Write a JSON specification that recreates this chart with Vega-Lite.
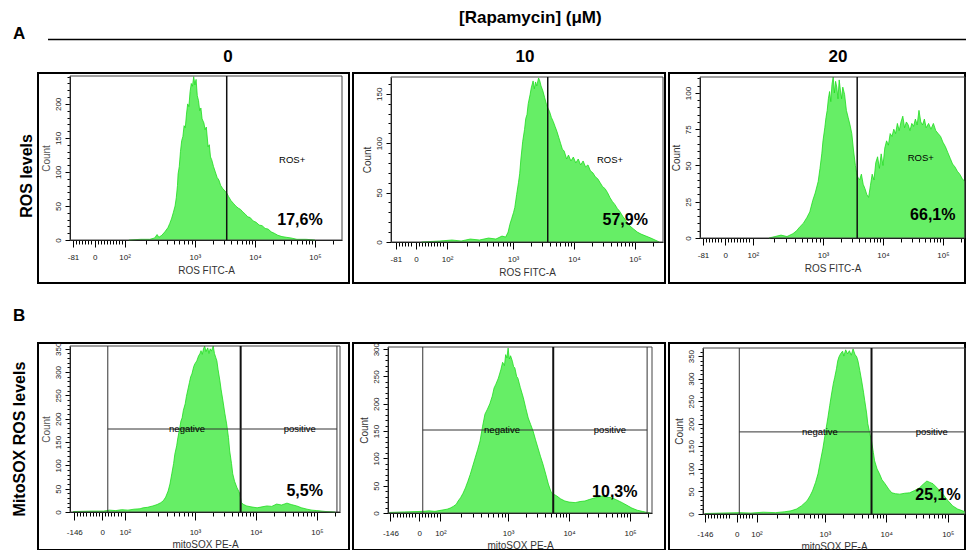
{
"$schema": "https://vega.github.io/schema/vega-lite/v6.json",
"usermeta": {"embedOptions": {"actions": false}},
"padding": 0,
"background": "white",
"spacing": 0,
"config": {
  "font": "Liberation Sans",
  "view": {"stroke": "#000", "strokeWidth": 2},
  "text": {"font": "Liberation Sans"},
  "axis": {"labelFont": "Liberation Sans", "titleFont": "Liberation Sans", "labelFontSize": 8, "titleFontSize": 10, "titleFontWeight": "normal", "domainColor": "#000", "tickColor": "#000", "labelColor": "#222", "titleColor": "#333", "grid": false, "labelOverlap": false, "labelFlush": false, "labelBound": false, "zindex": 1}
},
"datasets": {
  "A0": [{"pos":1.9,"count":0},{"pos":2.1,"count":1},{"pos":2.25,"count":1},{"pos":2.33,"count":3},{"pos":2.37,"count":8},{"pos":2.4,"count":4},{"pos":2.45,"count":7},{"pos":2.5,"count":12},{"pos":2.55,"count":18},{"pos":2.58,"count":24},{"pos":2.61,"count":31},{"pos":2.64,"count":40},{"pos":2.67,"count":50},{"pos":2.69,"count":62},{"pos":2.71,"count":80},{"pos":2.72,"count":97},{"pos":2.74,"count":108},{"pos":2.76,"count":130},{"pos":2.78,"count":146},{"pos":2.8,"count":152},{"pos":2.82,"count":168},{"pos":2.84,"count":165},{"pos":2.86,"count":185},{"pos":2.88,"count":200},{"pos":2.9,"count":196},{"pos":2.92,"count":218},{"pos":2.94,"count":230},{"pos":2.96,"count":226},{"pos":2.98,"count":240},{"pos":3.0,"count":228},{"pos":3.02,"count":236},{"pos":3.04,"count":212},{"pos":3.06,"count":205},{"pos":3.08,"count":190},{"pos":3.1,"count":194},{"pos":3.12,"count":178},{"pos":3.15,"count":172},{"pos":3.17,"count":162},{"pos":3.19,"count":166},{"pos":3.22,"count":137},{"pos":3.24,"count":140},{"pos":3.26,"count":122},{"pos":3.28,"count":118},{"pos":3.31,"count":108},{"pos":3.34,"count":100},{"pos":3.37,"count":92},{"pos":3.4,"count":88},{"pos":3.43,"count":80},{"pos":3.46,"count":76},{"pos":3.5,"count":72},{"pos":3.53,"count":69},{"pos":3.56,"count":64},{"pos":3.6,"count":58},{"pos":3.64,"count":54},{"pos":3.68,"count":50},{"pos":3.72,"count":47},{"pos":3.76,"count":45},{"pos":3.8,"count":41},{"pos":3.84,"count":38},{"pos":3.88,"count":34},{"pos":3.92,"count":33},{"pos":3.97,"count":28},{"pos":4.02,"count":26},{"pos":4.07,"count":22},{"pos":4.12,"count":21},{"pos":4.17,"count":17},{"pos":4.22,"count":16},{"pos":4.27,"count":12},{"pos":4.32,"count":10},{"pos":4.38,"count":7},{"pos":4.45,"count":5},{"pos":4.52,"count":4},{"pos":4.6,"count":3},{"pos":4.7,"count":1},{"pos":4.85,"count":1},{"pos":5.0,"count":0}],
  "A10": [{"pos":1.5,"count":0},{"pos":1.8,"count":1},{"pos":2.0,"count":2},{"pos":2.15,"count":1},{"pos":2.3,"count":3},{"pos":2.45,"count":2},{"pos":2.6,"count":4},{"pos":2.72,"count":3},{"pos":2.82,"count":6},{"pos":2.88,"count":5},{"pos":2.92,"count":10},{"pos":2.95,"count":18},{"pos":2.98,"count":24},{"pos":3.01,"count":30},{"pos":3.03,"count":35},{"pos":3.06,"count":48},{"pos":3.09,"count":60},{"pos":3.11,"count":69},{"pos":3.13,"count":84},{"pos":3.16,"count":102},{"pos":3.19,"count":114},{"pos":3.21,"count":125},{"pos":3.23,"count":129},{"pos":3.25,"count":140},{"pos":3.28,"count":149},{"pos":3.3,"count":156},{"pos":3.33,"count":163},{"pos":3.35,"count":155},{"pos":3.37,"count":162},{"pos":3.39,"count":158},{"pos":3.42,"count":166},{"pos":3.44,"count":163},{"pos":3.46,"count":158},{"pos":3.49,"count":153},{"pos":3.52,"count":146},{"pos":3.55,"count":139},{"pos":3.57,"count":136},{"pos":3.6,"count":132},{"pos":3.63,"count":126},{"pos":3.66,"count":122},{"pos":3.69,"count":117},{"pos":3.72,"count":112},{"pos":3.75,"count":106},{"pos":3.78,"count":100},{"pos":3.81,"count":94},{"pos":3.84,"count":92},{"pos":3.88,"count":84},{"pos":3.91,"count":88},{"pos":3.95,"count":82},{"pos":3.99,"count":86},{"pos":4.03,"count":80},{"pos":4.07,"count":84},{"pos":4.11,"count":78},{"pos":4.15,"count":82},{"pos":4.19,"count":76},{"pos":4.23,"count":78},{"pos":4.27,"count":72},{"pos":4.31,"count":70},{"pos":4.35,"count":66},{"pos":4.39,"count":64},{"pos":4.43,"count":60},{"pos":4.47,"count":56},{"pos":4.51,"count":54},{"pos":4.55,"count":50},{"pos":4.59,"count":45},{"pos":4.63,"count":41},{"pos":4.67,"count":38},{"pos":4.71,"count":34},{"pos":4.75,"count":31},{"pos":4.8,"count":26},{"pos":4.86,"count":21},{"pos":4.92,"count":16},{"pos":4.98,"count":13},{"pos":5.04,"count":10},{"pos":5.1,"count":8},{"pos":5.18,"count":6},{"pos":5.26,"count":4},{"pos":5.33,"count":2},{"pos":5.4,"count":0}],
  "A20": [{"pos":2.1,"count":0},{"pos":2.2,"count":1},{"pos":2.3,"count":2},{"pos":2.4,"count":1},{"pos":2.5,"count":3},{"pos":2.56,"count":5},{"pos":2.62,"count":8},{"pos":2.67,"count":10},{"pos":2.73,"count":14},{"pos":2.78,"count":18},{"pos":2.83,"count":26},{"pos":2.87,"count":31},{"pos":2.92,"count":39},{"pos":2.95,"count":48},{"pos":2.98,"count":58},{"pos":3.0,"count":67},{"pos":3.03,"count":76},{"pos":3.05,"count":83},{"pos":3.07,"count":88},{"pos":3.09,"count":96},{"pos":3.11,"count":101},{"pos":3.13,"count":94},{"pos":3.15,"count":106},{"pos":3.17,"count":111},{"pos":3.19,"count":100},{"pos":3.21,"count":108},{"pos":3.23,"count":104},{"pos":3.25,"count":96},{"pos":3.27,"count":109},{"pos":3.29,"count":102},{"pos":3.31,"count":96},{"pos":3.33,"count":104},{"pos":3.36,"count":99},{"pos":3.39,"count":88},{"pos":3.42,"count":83},{"pos":3.45,"count":78},{"pos":3.48,"count":72},{"pos":3.51,"count":60},{"pos":3.54,"count":50},{"pos":3.56,"count":45},{"pos":3.58,"count":42},{"pos":3.61,"count":40},{"pos":3.64,"count":44},{"pos":3.67,"count":37},{"pos":3.7,"count":34},{"pos":3.73,"count":30},{"pos":3.76,"count":28},{"pos":3.79,"count":36},{"pos":3.82,"count":44},{"pos":3.85,"count":40},{"pos":3.88,"count":52},{"pos":3.91,"count":56},{"pos":3.94,"count":48},{"pos":3.97,"count":58},{"pos":4.0,"count":50},{"pos":4.03,"count":62},{"pos":4.06,"count":67},{"pos":4.09,"count":64},{"pos":4.12,"count":72},{"pos":4.15,"count":70},{"pos":4.18,"count":75},{"pos":4.21,"count":72},{"pos":4.24,"count":79},{"pos":4.27,"count":74},{"pos":4.3,"count":80},{"pos":4.33,"count":84},{"pos":4.36,"count":76},{"pos":4.39,"count":80},{"pos":4.42,"count":78},{"pos":4.45,"count":74},{"pos":4.48,"count":79},{"pos":4.51,"count":77},{"pos":4.54,"count":82},{"pos":4.57,"count":78},{"pos":4.6,"count":88},{"pos":4.63,"count":80},{"pos":4.66,"count":78},{"pos":4.69,"count":82},{"pos":4.72,"count":76},{"pos":4.76,"count":79},{"pos":4.8,"count":75},{"pos":4.84,"count":79},{"pos":4.88,"count":74},{"pos":4.92,"count":72},{"pos":4.96,"count":70},{"pos":5.0,"count":66},{"pos":5.04,"count":63},{"pos":5.08,"count":59},{"pos":5.12,"count":55},{"pos":5.16,"count":51},{"pos":5.2,"count":49},{"pos":5.24,"count":46},{"pos":5.28,"count":44},{"pos":5.32,"count":41},{"pos":5.36,"count":39}],
  "B0": [{"pos":1.0,"count":1},{"pos":1.3,"count":2},{"pos":1.5,"count":2},{"pos":1.6,"count":4},{"pos":1.7,"count":3},{"pos":1.8,"count":5},{"pos":1.9,"count":4},{"pos":2.0,"count":6},{"pos":2.1,"count":7},{"pos":2.15,"count":9},{"pos":2.22,"count":10},{"pos":2.31,"count":13},{"pos":2.38,"count":16},{"pos":2.44,"count":20},{"pos":2.48,"count":24},{"pos":2.52,"count":32},{"pos":2.56,"count":45},{"pos":2.59,"count":60},{"pos":2.62,"count":82},{"pos":2.65,"count":104},{"pos":2.67,"count":124},{"pos":2.7,"count":142},{"pos":2.72,"count":159},{"pos":2.75,"count":180},{"pos":2.77,"count":195},{"pos":2.79,"count":202},{"pos":2.81,"count":218},{"pos":2.84,"count":232},{"pos":2.86,"count":248},{"pos":2.89,"count":266},{"pos":2.91,"count":278},{"pos":2.93,"count":290},{"pos":2.95,"count":296},{"pos":2.98,"count":312},{"pos":3.0,"count":318},{"pos":3.03,"count":324},{"pos":3.06,"count":335},{"pos":3.08,"count":339},{"pos":3.1,"count":346},{"pos":3.12,"count":338},{"pos":3.14,"count":350},{"pos":3.16,"count":356},{"pos":3.18,"count":344},{"pos":3.21,"count":352},{"pos":3.23,"count":340},{"pos":3.25,"count":350},{"pos":3.27,"count":345},{"pos":3.3,"count":356},{"pos":3.32,"count":340},{"pos":3.34,"count":332},{"pos":3.36,"count":324},{"pos":3.38,"count":305},{"pos":3.41,"count":281},{"pos":3.43,"count":262},{"pos":3.46,"count":238},{"pos":3.49,"count":212},{"pos":3.52,"count":189},{"pos":3.55,"count":160},{"pos":3.57,"count":131},{"pos":3.6,"count":104},{"pos":3.62,"count":82},{"pos":3.65,"count":66},{"pos":3.69,"count":52},{"pos":3.72,"count":44},{"pos":3.74,"count":38},{"pos":3.76,"count":20},{"pos":3.8,"count":16},{"pos":3.85,"count":13},{"pos":3.92,"count":11},{"pos":4.02,"count":9},{"pos":4.1,"count":11},{"pos":4.18,"count":13},{"pos":4.26,"count":12},{"pos":4.34,"count":17},{"pos":4.42,"count":15},{"pos":4.51,"count":19},{"pos":4.58,"count":16},{"pos":4.67,"count":13},{"pos":4.75,"count":9},{"pos":4.84,"count":6},{"pos":4.92,"count":4},{"pos":5.0,"count":3},{"pos":5.15,"count":1},{"pos":5.3,"count":0}],
  "B10": [{"pos":1.05,"count":1},{"pos":1.3,"count":2},{"pos":1.6,"count":3},{"pos":1.7,"count":4},{"pos":1.8,"count":3},{"pos":1.9,"count":5},{"pos":2.0,"count":7},{"pos":2.05,"count":9},{"pos":2.1,"count":12},{"pos":2.15,"count":16},{"pos":2.18,"count":22},{"pos":2.22,"count":28},{"pos":2.26,"count":36},{"pos":2.3,"count":46},{"pos":2.34,"count":58},{"pos":2.38,"count":71},{"pos":2.42,"count":86},{"pos":2.46,"count":101},{"pos":2.5,"count":116},{"pos":2.54,"count":132},{"pos":2.58,"count":158},{"pos":2.62,"count":181},{"pos":2.66,"count":190},{"pos":2.7,"count":200},{"pos":2.74,"count":214},{"pos":2.77,"count":229},{"pos":2.8,"count":236},{"pos":2.84,"count":247},{"pos":2.88,"count":262},{"pos":2.91,"count":276},{"pos":2.94,"count":270},{"pos":2.96,"count":290},{"pos":2.98,"count":284},{"pos":3.0,"count":302},{"pos":3.02,"count":282},{"pos":3.04,"count":288},{"pos":3.07,"count":278},{"pos":3.09,"count":268},{"pos":3.11,"count":266},{"pos":3.14,"count":250},{"pos":3.16,"count":247},{"pos":3.2,"count":230},{"pos":3.25,"count":211},{"pos":3.29,"count":192},{"pos":3.33,"count":174},{"pos":3.37,"count":162},{"pos":3.41,"count":150},{"pos":3.45,"count":134},{"pos":3.49,"count":119},{"pos":3.53,"count":104},{"pos":3.57,"count":90},{"pos":3.62,"count":70},{"pos":3.66,"count":53},{"pos":3.7,"count":40},{"pos":3.73,"count":35},{"pos":3.77,"count":33},{"pos":3.8,"count":31},{"pos":3.86,"count":26},{"pos":3.93,"count":22},{"pos":4.0,"count":20},{"pos":4.1,"count":19},{"pos":4.18,"count":21},{"pos":4.26,"count":22},{"pos":4.34,"count":25},{"pos":4.43,"count":28},{"pos":4.5,"count":30},{"pos":4.54,"count":31},{"pos":4.6,"count":29},{"pos":4.7,"count":28},{"pos":4.78,"count":24},{"pos":4.87,"count":19},{"pos":4.95,"count":14},{"pos":5.03,"count":9},{"pos":5.12,"count":5},{"pos":5.2,"count":3},{"pos":5.28,"count":1},{"pos":5.33,"count":0}],
  "B20": [{"pos":1.05,"count":1},{"pos":1.3,"count":2},{"pos":1.62,"count":3},{"pos":1.8,"count":2},{"pos":2.0,"count":4},{"pos":2.2,"count":3},{"pos":2.35,"count":5},{"pos":2.45,"count":7},{"pos":2.54,"count":11},{"pos":2.62,"count":18},{"pos":2.71,"count":29},{"pos":2.76,"count":40},{"pos":2.8,"count":51},{"pos":2.85,"count":70},{"pos":2.89,"count":89},{"pos":2.93,"count":118},{"pos":2.97,"count":146},{"pos":3.01,"count":180},{"pos":3.05,"count":213},{"pos":3.08,"count":240},{"pos":3.11,"count":266},{"pos":3.14,"count":290},{"pos":3.16,"count":302},{"pos":3.19,"count":322},{"pos":3.21,"count":339},{"pos":3.23,"count":348},{"pos":3.26,"count":356},{"pos":3.29,"count":361},{"pos":3.31,"count":350},{"pos":3.34,"count":364},{"pos":3.37,"count":355},{"pos":3.4,"count":362},{"pos":3.43,"count":352},{"pos":3.46,"count":366},{"pos":3.49,"count":354},{"pos":3.52,"count":348},{"pos":3.54,"count":339},{"pos":3.57,"count":318},{"pos":3.6,"count":295},{"pos":3.63,"count":270},{"pos":3.65,"count":251},{"pos":3.68,"count":224},{"pos":3.7,"count":200},{"pos":3.73,"count":180},{"pos":3.76,"count":162},{"pos":3.79,"count":136},{"pos":3.81,"count":118},{"pos":3.85,"count":100},{"pos":3.89,"count":89},{"pos":3.93,"count":76},{"pos":3.98,"count":67},{"pos":4.04,"count":55},{"pos":4.09,"count":47},{"pos":4.15,"count":45},{"pos":4.22,"count":44},{"pos":4.3,"count":46},{"pos":4.38,"count":47},{"pos":4.46,"count":52},{"pos":4.54,"count":58},{"pos":4.6,"count":66},{"pos":4.66,"count":73},{"pos":4.71,"count":70},{"pos":4.76,"count":67},{"pos":4.84,"count":56},{"pos":4.92,"count":44},{"pos":5.0,"count":30},{"pos":5.08,"count":18},{"pos":5.16,"count":11},{"pos":5.24,"count":7},{"pos":5.28,"count":5}]
},
"vconcat": [
  {
    "width": 966, "height": 72, "view": {"stroke": null},
    "data": {"values": [{"heading": "[Rapamycin] (μM)"}]},
    "layer": [
      {"mark": {"type": "text", "fontSize": 17, "fontWeight": "bold", "baseline": "middle"},
       "encoding": {"x": {"datum": 0.549, "scale": {"domain": [0, 1]}, "axis": null}, "y": {"datum": 0.75, "scale": {"domain": [0, 1]}, "axis": null}, "text": {"field": "heading"}}},
      {"mark": {"type": "rule", "color": "#000", "strokeWidth": 1.5},
       "encoding": {"x": {"datum": 0.0497, "axis": null}, "x2": {"datum": 1}, "y": {"datum": 0.451, "axis": null}}},
      {"mark": {"type": "text", "fontSize": 17, "fontWeight": "bold", "baseline": "middle"},
       "encoding": {"x": {"datum": 0.0197, "axis": null}, "y": {"datum": 0.528, "axis": null}, "text": {"value": "A"}}},
      {"mark": {"type": "text", "fontSize": 17, "fontWeight": "bold", "baseline": "middle"},
       "encoding": {"x": {"datum": 0.236, "axis": null}, "y": {"datum": 0.208, "axis": null}, "text": {"value": "0"}}},
      {"mark": {"type": "text", "fontSize": 17, "fontWeight": "bold", "baseline": "middle"},
       "encoding": {"x": {"datum": 0.5435, "axis": null}, "y": {"datum": 0.208, "axis": null}, "text": {"value": "10"}}},
      {"mark": {"type": "text", "fontSize": 17, "fontWeight": "bold", "baseline": "middle"},
       "encoding": {"x": {"datum": 0.8675, "axis": null}, "y": {"datum": 0.208, "axis": null}, "text": {"value": "20"}}}
    ]
  },
  {
    "hconcat": [
      {"width": 34, "height": 210, "view": {"stroke": null},
       "data": {"values": [{"row": "ROS levels"}]},
       "mark": {"type": "text", "angle": 270, "fontSize": 16, "fontWeight": "bold", "baseline": "middle", "align": "center"},
       "encoding": {"x": {"datum": 0.79, "scale": {"domain": [0, 1]}, "axis": null}, "y": {"datum": 0.51, "scale": {"domain": [0, 1]}, "axis": null}, "text": {"field": "row"}}},
      {"width": 311, "height": 210,
       "data": {"values": [{"pct": "17,6%", "gate": "ROS+"}]},
       "resolve": {"axis": {"x": "independent", "y": "independent"}},
       "layer": [
         {"data": {"name": "A0"},
          "mark": {"type": "area", "color": "#66ee66", "opacity": 1, "line": {"color": "#1fdc1f", "strokeWidth": 0.8}},
          "encoding": {
            "x": {"field": "pos", "type": "quantitative", "scale": {"domain": [0.92, 5.45], "range": [32, 304], "nice": false, "zero": false},
                  "axis": {"orient": "bottom", "offset": -43, "title": "ROS FITC-A", "titlePadding": 4, "labelPadding": 6, "labelOverlap": false, "tickSize": 7,
                           "values": [0.97,1.33,1.83,3,4,5],
                           "labelExpr": "datum.value==0.97?'-81':datum.value==1.33?'0':datum.value==1.83?'10²':datum.value==3?'10³':datum.value==4?'10⁴':'10⁵'"}},
            "y": {"field": "count", "type": "quantitative", "scale": {"domain": [0, 241], "range": [167, 3], "nice": false},
                  "axis": {"orient": "left", "offset": -32, "title": "Count", "titlePadding": 3, "titleColor": "#555", "labelAngle": 270, "labelAlign": "center", "labelBaseline": "bottom", "labelPadding": 3, "labelOverlap": false, "tickSize": 5,
                           "values": [0,50,100,150,200]}}}},
         {"mark": {"type": "rect", "filled": false, "color": "#444", "strokeWidth": 1},
          "encoding": {"x": {"datum": 0.92, "axis": {"orient": "bottom", "offset": -43, "title": null, "labels": false, "domain": false, "tickSize": 4, "values": [1.02,1.07,1.12,1.17,1.22,1.27,1.38,1.43,1.48,1.53,1.58,1.63,1.68,1.73,1.78,2.182,2.388,2.534,2.648,2.74,2.819,2.887,2.946,3.301,3.477,3.602,3.699,3.778,3.845,3.903,3.954,4.301,4.477,4.602,4.699,4.778,4.845,4.903,4.954,5.301]}},
                       "x2": {"datum": 5.45},
                       "y": {"datum": 0, "axis": {"orient": "left", "offset": -32, "title": null, "labels": false, "domain": false, "tickSize": 3, "values": [10,20,30,40,60,70,80,90,110,120,130,140,160,170,180,190,210,220,230,240]}},
                       "y2": {"datum": 241}}},
         {"mark": {"type": "rule", "color": "#111", "strokeWidth": 1.5},
          "encoding": {"x": {"datum": 3.53, "axis": null}, "y": {"datum": 0, "axis": null}, "y2": {"datum": 241}}},
         {"mark": {"type": "text", "fontSize": 9.5, "baseline": "middle"},
          "encoding": {"x": {"datum": 4.62, "axis": null}, "y": {"datum": 118, "axis": null}, "text": {"field": "gate"}}},
         {"mark": {"type": "text", "fontSize": 16, "fontWeight": "bold", "baseline": "middle"},
          "encoding": {"x": {"datum": 4.75, "axis": null}, "y": {"datum": 29, "axis": null}, "text": {"field": "pct"}}}
       ]},
      {"width": 312, "height": 210,
       "data": {"values": [{"pct": "57,9%", "gate": "ROS+"}]},
       "resolve": {"axis": {"x": "independent", "y": "independent"}},
       "layer": [
         {"data": {"name": "A10"},
          "mark": {"type": "area", "color": "#66ee66", "opacity": 1, "line": {"color": "#1fdc1f", "strokeWidth": 0.8}},
          "encoding": {
            "x": {"field": "pos", "type": "quantitative", "scale": {"domain": [1.0, 5.46], "range": [38, 310], "nice": false, "zero": false},
                  "axis": {"orient": "bottom", "offset": -41, "title": "ROS FITC-A", "titlePadding": 4, "labelPadding": 6, "labelOverlap": false, "tickSize": 7,
                           "values": [1.08,1.41,1.92,3,4,5],
                           "labelExpr": "datum.value==1.08?'-81':datum.value==1.41?'0':datum.value==1.92?'10²':datum.value==3?'10³':datum.value==4?'10⁴':'10⁵'"}},
            "y": {"field": "count", "type": "quantitative", "scale": {"domain": [0, 167], "range": [169, 4], "nice": false},
                  "axis": {"orient": "left", "offset": -38, "title": "Count", "titlePadding": 3, "labelAngle": 270, "labelAlign": "center", "labelBaseline": "bottom", "labelPadding": 3, "labelOverlap": false, "tickSize": 5,
                           "values": [0,50,100,150]}}}},
         {"mark": {"type": "rect", "filled": false, "color": "#444", "strokeWidth": 1},
          "encoding": {"x": {"datum": 1.0, "axis": {"orient": "bottom", "offset": -41, "title": null, "labels": false, "domain": false, "tickSize": 4, "values": [1.13,1.18,1.23,1.28,1.33,1.46,1.51,1.56,1.61,1.66,1.71,1.76,1.81,1.86,2.245,2.435,2.57,2.675,2.76,2.833,2.895,2.95,3.301,3.477,3.602,3.699,3.778,3.845,3.903,3.954,4.301,4.477,4.602,4.699,4.778,4.845,4.903,4.954,5.301]}},
                       "x2": {"datum": 5.46},
                       "y": {"datum": 0, "axis": {"orient": "left", "offset": -38, "title": null, "labels": false, "domain": false, "tickSize": 3, "values": [10,20,30,40,60,70,80,90,110,120,130,140,160]}},
                       "y2": {"datum": 167}}},
         {"mark": {"type": "rule", "color": "#111", "strokeWidth": 1.5},
          "encoding": {"x": {"datum": 3.57, "axis": null}, "y": {"datum": 0, "axis": null}, "y2": {"datum": 167}}},
         {"mark": {"type": "text", "fontSize": 9.5, "baseline": "middle"},
          "encoding": {"x": {"datum": 4.59, "axis": null}, "y": {"datum": 83, "axis": null}, "text": {"field": "gate"}}},
         {"mark": {"type": "text", "fontSize": 16, "fontWeight": "bold", "baseline": "middle"},
          "encoding": {"x": {"datum": 4.84, "axis": null}, "y": {"datum": 22, "axis": null}, "text": {"field": "pct"}}}
       ]},
      {"width": 296, "height": 210,
       "data": {"values": [{"pct": "66,1%", "gate": "ROS+"}]},
       "resolve": {"axis": {"x": "independent", "y": "independent"}},
       "layer": [
         {"data": {"name": "A20"},
          "mark": {"type": "area", "color": "#66ee66", "opacity": 1, "line": {"color": "#1fdc1f", "strokeWidth": 0.8}},
          "encoding": {
            "x": {"field": "pos", "type": "quantitative", "scale": {"domain": [0.95, 5.367], "range": [31, 296], "nice": false, "zero": false},
                  "axis": {"orient": "bottom", "offset": -45, "title": "ROS FITC-A", "titlePadding": 4, "labelPadding": 6, "labelOverlap": false, "tickSize": 7,
                           "values": [1,1.37,1.83,3,4,5],
                           "labelExpr": "datum.value==1?'-81':datum.value==1.37?'0':datum.value==1.83?'10²':datum.value==3?'10³':datum.value==4?'10⁴':'10⁵'"}},
            "y": {"field": "count", "type": "quantitative", "scale": {"domain": [0, 111], "range": [165, 4], "nice": false},
                  "axis": {"orient": "left", "offset": -31, "title": "Count", "titlePadding": 3, "labelAngle": 270, "labelAlign": "center", "labelBaseline": "bottom", "labelPadding": 3, "labelOverlap": false, "tickSize": 5,
                           "values": [0,25,50,75,100]}}}},
         {"mark": {"type": "rect", "filled": false, "color": "#444", "strokeWidth": 1},
          "encoding": {"x": {"datum": 0.95, "axis": {"orient": "bottom", "offset": -45, "title": null, "labels": false, "domain": false, "tickSize": 4, "values": [1.05,1.1,1.15,1.2,1.25,1.3,1.42,1.47,1.52,1.57,1.62,1.67,1.72,1.77,2.182,2.388,2.534,2.648,2.74,2.819,2.887,2.946,3.301,3.477,3.602,3.699,3.778,3.845,3.903,3.954,4.301,4.477,4.602,4.699,4.778,4.845,4.903,4.954,5.301]}},
                       "x2": {"datum": 5.367},
                       "y": {"datum": 0, "axis": {"orient": "left", "offset": -31, "title": null, "labels": false, "domain": false, "tickSize": 3, "values": [5,10,15,20,30,35,40,45,55,60,65,70,80,85,90,95,105,110]}},
                       "y2": {"datum": 111}}},
         {"mark": {"type": "rule", "color": "#111", "strokeWidth": 1.5},
          "encoding": {"x": {"datum": 3.57, "axis": null}, "y": {"datum": 0, "axis": null}, "y2": {"datum": 111}}},
         {"mark": {"type": "text", "fontSize": 9.5, "baseline": "middle"},
          "encoding": {"x": {"datum": 4.63, "axis": null}, "y": {"datum": 55, "axis": null}, "text": {"field": "gate"}}},
         {"mark": {"type": "text", "fontSize": 16, "fontWeight": "bold", "baseline": "middle"},
          "encoding": {"x": {"datum": 4.83, "axis": null}, "y": {"datum": 16, "axis": null}, "text": {"field": "pct"}}}
       ]}
    ],
    "spacing": 4, "bounds": "flush"
  },
  {
    "width": 966, "height": 57, "view": {"stroke": null},
    "data": {"values": [{"part": "B"}]},
    "mark": {"type": "text", "fontSize": 17, "fontWeight": "bold", "baseline": "middle"},
    "encoding": {"x": {"datum": 0.0197, "scale": {"domain": [0, 1]}, "axis": null}, "y": {"datum": 0.43, "scale": {"domain": [0, 1]}, "axis": null}, "text": {"field": "part"}}
  },
  {
    "hconcat": [
      {"width": 34, "height": 207, "view": {"stroke": null},
       "data": {"values": [{"row": "MitoSOX ROS levels"}]},
       "mark": {"type": "text", "angle": 270, "fontSize": 16, "fontWeight": "bold", "baseline": "middle", "align": "center"},
       "encoding": {"x": {"datum": 0.59, "scale": {"domain": [0, 1]}, "axis": null}, "y": {"datum": 0.536, "scale": {"domain": [0, 1]}, "axis": null}, "text": {"field": "row"}}},
      {"width": 311, "height": 207,
       "data": {"values": [{"pct": "5,5%", "neg": "negative", "posl": "positive"}]},
       "resolve": {"axis": {"x": "independent", "y": "independent"}},
       "layer": [
         {"data": {"name": "B0"},
          "mark": {"type": "area", "color": "#66ee66", "opacity": 1, "line": {"color": "#1fdc1f", "strokeWidth": 0.8}},
          "encoding": {
            "x": {"field": "pos", "type": "quantitative", "scale": {"domain": [0.95, 5.38], "range": [32, 302], "nice": false, "zero": false},
                  "axis": {"orient": "bottom", "offset": -38, "title": "mitoSOX PE-A", "titlePadding": 3, "labelPadding": 8, "labelOverlap": false, "tickSize": 8,
                           "values": [1.02,1.48,1.85,3,4,5],
                           "labelExpr": "datum.value==1.02?'-146':datum.value==1.48?'0':datum.value==1.85?'10²':datum.value==3?'10³':datum.value==4?'10⁴':'10⁵'"}},
            "y": {"field": "count", "type": "quantitative", "scale": {"domain": [0, 356], "range": [169, 3], "nice": false},
                  "axis": {"orient": "left", "offset": -32, "title": "Count", "titlePadding": 3, "titleColor": "#555", "labelAngle": 270, "labelAlign": "center", "labelBaseline": "bottom", "labelPadding": 3, "labelOverlap": false, "tickSize": 5,
                           "values": [0,50,100,150,200,250,300,350]}}}},
         {"mark": {"type": "rect", "filled": false, "color": "#444", "strokeWidth": 1},
          "encoding": {"x": {"datum": 0.95, "axis": {"orient": "bottom", "offset": -38, "title": null, "labels": false, "domain": false, "tickSize": 4, "values": [1.07,1.12,1.17,1.22,1.27,1.32,1.37,1.42,1.53,1.58,1.63,1.68,1.73,1.78,2.196,2.399,2.542,2.654,2.745,2.822,2.888,2.947,3.301,3.477,3.602,3.699,3.778,3.845,3.903,3.954,4.301,4.477,4.602,4.699,4.778,4.845,4.903,4.954,5.301]}},
                       "x2": {"datum": 5.38},
                       "y": {"datum": 0, "axis": {"orient": "left", "offset": -32, "title": null, "labels": false, "domain": false, "tickSize": 3, "values": [10,20,30,40,60,70,80,90,110,120,130,140,160,170,180,190,210,220,230,240,260,270,280,290,310,320,330,340]}},
                       "y2": {"datum": 356}}},
         {"mark": {"type": "rule", "color": "#333", "strokeWidth": 1},
          "encoding": {"x": {"datum": 1.57, "axis": null}, "y": {"datum": 0, "axis": null}, "y2": {"datum": 356}}},
         {"mark": {"type": "rule", "color": "#333", "strokeWidth": 1},
          "encoding": {"x": {"datum": 5.33, "axis": null}, "y": {"datum": 0, "axis": null}, "y2": {"datum": 356}}},
         {"mark": {"type": "rule", "color": "#111", "strokeWidth": 2},
          "encoding": {"x": {"datum": 3.75, "axis": null}, "y": {"datum": 0, "axis": null}, "y2": {"datum": 356}}},
         {"mark": {"type": "rule", "color": "#333", "strokeWidth": 1},
          "encoding": {"x": {"datum": 1.57, "axis": null}, "x2": {"datum": 5.33}, "y": {"datum": 178, "axis": null}}},
         {"mark": {"type": "text", "fontSize": 9.5, "baseline": "middle"},
          "encoding": {"x": {"datum": 2.87, "axis": null}, "y": {"datum": 178, "axis": null}, "text": {"field": "neg"}}},
         {"mark": {"type": "text", "fontSize": 9.5, "baseline": "middle"},
          "encoding": {"x": {"datum": 4.72, "axis": null}, "y": {"datum": 178, "axis": null}, "text": {"field": "posl"}}},
         {"mark": {"type": "text", "fontSize": 16, "fontWeight": "bold", "baseline": "middle"},
          "encoding": {"x": {"datum": 4.8, "axis": null}, "y": {"datum": 45, "axis": null}, "text": {"field": "pct"}}}
       ]},
      {"width": 312, "height": 207,
       "data": {"values": [{"pct": "10,3%", "neg": "negative", "posl": "positive"}]},
       "resolve": {"axis": {"x": "independent", "y": "independent"}},
       "layer": [
         {"data": {"name": "B10"},
          "mark": {"type": "area", "color": "#66ee66", "opacity": 1, "line": {"color": "#1fdc1f", "strokeWidth": 0.8}},
          "encoding": {
            "x": {"field": "pos", "type": "quantitative", "scale": {"domain": [1.03, 5.36], "range": [35, 299], "nice": false, "zero": false},
                  "axis": {"orient": "bottom", "offset": -37, "title": "mitoSOX PE-A", "titlePadding": 3, "labelPadding": 8, "labelOverlap": false, "tickSize": 8,
                           "values": [1.07,1.54,1.89,3,4,5],
                           "labelExpr": "datum.value==1.07?'-146':datum.value==1.54?'0':datum.value==1.89?'10²':datum.value==3?'10³':datum.value==4?'10⁴':'10⁵'"}},
            "y": {"field": "count", "type": "quantitative", "scale": {"domain": [0, 304], "range": [170, 4], "nice": false},
                  "axis": {"orient": "left", "offset": -35, "title": "Count", "titlePadding": 3, "labelAngle": 270, "labelAlign": "center", "labelBaseline": "bottom", "labelPadding": 3, "labelOverlap": false, "tickSize": 5,
                           "values": [0,50,100,150,200,250,300]}}}},
         {"mark": {"type": "rect", "filled": false, "color": "#444", "strokeWidth": 1},
          "encoding": {"x": {"datum": 1.03, "axis": {"orient": "bottom", "offset": -37, "title": null, "labels": false, "domain": false, "tickSize": 4, "values": [1.12,1.17,1.22,1.27,1.32,1.37,1.42,1.47,1.59,1.64,1.69,1.74,1.79,1.84,2.224,2.419,2.558,2.666,2.754,2.828,2.892,2.949,3.301,3.477,3.602,3.699,3.778,3.845,3.903,3.954,4.301,4.477,4.602,4.699,4.778,4.845,4.903,4.954,5.301]}},
                       "x2": {"datum": 5.36},
                       "y": {"datum": 0, "axis": {"orient": "left", "offset": -35, "title": null, "labels": false, "domain": false, "tickSize": 3, "values": [10,20,30,40,60,70,80,90,110,120,130,140,160,170,180,190,210,220,230,240,260,270,280,290]}},
                       "y2": {"datum": 304}}},
         {"mark": {"type": "rule", "color": "#333", "strokeWidth": 1},
          "encoding": {"x": {"datum": 1.6, "axis": null}, "y": {"datum": 0, "axis": null}, "y2": {"datum": 304}}},
         {"mark": {"type": "rule", "color": "#333", "strokeWidth": 1},
          "encoding": {"x": {"datum": 5.28, "axis": null}, "y": {"datum": 0, "axis": null}, "y2": {"datum": 304}}},
         {"mark": {"type": "rule", "color": "#111", "strokeWidth": 2},
          "encoding": {"x": {"datum": 3.74, "axis": null}, "y": {"datum": 0, "axis": null}, "y2": {"datum": 304}}},
         {"mark": {"type": "rule", "color": "#333", "strokeWidth": 1},
          "encoding": {"x": {"datum": 1.6, "axis": null}, "x2": {"datum": 5.28}, "y": {"datum": 152, "axis": null}}},
         {"mark": {"type": "text", "fontSize": 9.5, "baseline": "middle"},
          "encoding": {"x": {"datum": 2.9, "axis": null}, "y": {"datum": 152, "axis": null}, "text": {"field": "neg"}}},
         {"mark": {"type": "text", "fontSize": 9.5, "baseline": "middle"},
          "encoding": {"x": {"datum": 4.67, "axis": null}, "y": {"datum": 152, "axis": null}, "text": {"field": "posl"}}},
         {"mark": {"type": "text", "fontSize": 16, "fontWeight": "bold", "baseline": "middle"},
          "encoding": {"x": {"datum": 4.75, "axis": null}, "y": {"datum": 38, "axis": null}, "text": {"field": "pct"}}}
       ]},
      {"width": 296, "height": 207,
       "data": {"values": [{"pct": "25,1%", "neg": "negative", "posl": "positive"}]},
       "resolve": {"axis": {"x": "independent", "y": "independent"}},
       "layer": [
         {"data": {"name": "B20"},
          "mark": {"type": "area", "color": "#66ee66", "opacity": 1, "line": {"color": "#1fdc1f", "strokeWidth": 0.8}},
          "encoding": {
            "x": {"field": "pos", "type": "quantitative", "scale": {"domain": [1.02, 5.28], "range": [34, 296], "nice": false, "zero": false},
                  "axis": {"orient": "bottom", "offset": -36, "title": "mitoSOX PE-A", "titlePadding": 3, "labelPadding": 8, "labelOverlap": false, "tickSize": 8,
                           "values": [1.05,1.57,1.89,3,4,5],
                           "labelExpr": "datum.value==1.05?'-146':datum.value==1.57?'0':datum.value==1.89?'10²':datum.value==3?'10³':datum.value==4?'10⁴':'10⁵'"}},
            "y": {"field": "count", "type": "quantitative", "scale": {"domain": [0, 368], "range": [171, 5], "nice": false},
                  "axis": {"orient": "left", "offset": -34, "title": "Count", "titlePadding": 3, "labelAngle": 270, "labelAlign": "center", "labelBaseline": "bottom", "labelPadding": 3, "labelOverlap": false, "tickSize": 5,
                           "values": [0,50,100,150,200,250,300,350]}}}},
         {"mark": {"type": "rect", "filled": false, "color": "#444", "strokeWidth": 1},
          "encoding": {"x": {"datum": 1.02, "axis": {"orient": "bottom", "offset": -36, "title": null, "labels": false, "domain": false, "tickSize": 4, "values": [1.1,1.15,1.2,1.25,1.3,1.35,1.4,1.45,1.62,1.67,1.72,1.77,1.82,2.224,2.419,2.558,2.666,2.754,2.828,2.892,2.949,3.301,3.477,3.602,3.699,3.778,3.845,3.903,3.954,4.301,4.477,4.602,4.699,4.778,4.845,4.903,4.954]}},
                       "x2": {"datum": 5.28},
                       "y": {"datum": 0, "axis": {"orient": "left", "offset": -34, "title": null, "labels": false, "domain": false, "tickSize": 3, "values": [10,20,30,40,60,70,80,90,110,120,130,140,160,170,180,190,210,220,230,240,260,270,280,290,310,320,330,340,360]}},
                       "y2": {"datum": 368}}},
         {"mark": {"type": "rule", "color": "#333", "strokeWidth": 1},
          "encoding": {"x": {"datum": 1.61, "axis": null}, "y": {"datum": 0, "axis": null}, "y2": {"datum": 368}}},
         {"mark": {"type": "rule", "color": "#111", "strokeWidth": 2},
          "encoding": {"x": {"datum": 3.76, "axis": null}, "y": {"datum": 0, "axis": null}, "y2": {"datum": 368}}},
         {"mark": {"type": "rule", "color": "#333", "strokeWidth": 1},
          "encoding": {"x": {"datum": 1.61, "axis": null}, "x2": {"datum": 5.28}, "y": {"datum": 182, "axis": null}}},
         {"mark": {"type": "text", "fontSize": 9.5, "baseline": "middle"},
          "encoding": {"x": {"datum": 2.92, "axis": null}, "y": {"datum": 182, "axis": null}, "text": {"field": "neg"}}},
         {"mark": {"type": "text", "fontSize": 9.5, "baseline": "middle"},
          "encoding": {"x": {"datum": 4.74, "axis": null}, "y": {"datum": 182, "axis": null}, "text": {"field": "posl"}}},
         {"mark": {"type": "text", "fontSize": 16, "fontWeight": "bold", "baseline": "middle"},
          "encoding": {"x": {"datum": 4.84, "axis": null}, "y": {"datum": 42, "axis": null}, "text": {"field": "pct"}}}
       ]}
    ],
    "spacing": 4, "bounds": "flush"
  }
]
}
